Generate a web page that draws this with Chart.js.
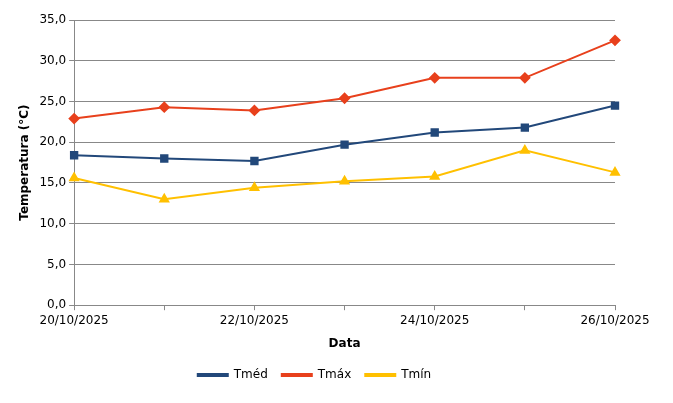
<!DOCTYPE html>
<html>
<head>
<meta charset="UTF-8">
<script src="https://cdn.jsdelivr.net/npm/chart.js"></script>
<style>
  html, body { margin: 0; padding: 0; background: white; }
  #wrap { width: 673px; height: 403px; }
</style>
</head>
<body>
<div id="wrap"><canvas id="chart"></canvas></div>
<script>
  const labels = ['20/10/2025','21/10/2025','22/10/2025','23/10/2025','24/10/2025','25/10/2025','26/10/2025'];
  const tmed = [18.4, 18.0, 17.7, 19.7, 21.2, 21.8, 24.5];
  const tmax = [22.9, 24.3, 23.9, 25.4, 27.9, 27.9, 32.5];
  const tmin = [15.6, 13.0, 14.4, 15.2, 15.8, 19.0, 16.3];

  Chart.defaults.font.family = 'DejaVu Sans, Verdana, sans-serif';
  Chart.defaults.font.size = 12;
  Chart.defaults.color = '#000';

  const line = (label, data, color, style) => ({
    label, data, borderColor: color, backgroundColor: color,
    pointStyle: style, pointRadius: 4.5,
    borderWidth: 2, tension: 0
  });

  new Chart(document.getElementById('chart'), {
    type: 'line',
    data: {
      labels,
      datasets: [
        line('Tméd', tmed, '#22487a', 'rect'),
        line('Tmáx', tmax, '#e8401c', 'rectRot'),
        line('Tmín', tmin, '#ffc000', 'triangle')
      ]
    },
    options: {
      responsive: true,
      maintainAspectRatio: false,
      animation: false,
      layout: { padding: { top: 20, right: 58, left: 14, bottom: 12 } },
      plugins: {
        legend: {
          position: 'bottom',
          labels: { boxWidth: 30, boxHeight: 2, padding: 14 }
        }
      },
      scales: {
        x: {
          offset: false,
          grid: { drawOnChartArea: false, color: '#888', tickLength: 5 },
          border: { color: '#888' },
          ticks: { maxRotation: 0, autoSkip: false,
            callback: (v, i) => i % 2 === 0 ? labels[i] : '' },
          title: { display: true, text: 'Data', font: { weight: 'bold' }, padding: { top: 6 } }
        },
        y: {
          min: 0, max: 35,
          grid: { color: '#888', tickLength: 5 },
          border: { color: '#888' },
          ticks: { stepSize: 5, callback: v => v.toFixed(1).replace('.', ',') },
          title: { display: true, text: 'Temperatura (°C)', font: { weight: 'bold' } }
        }
      }
    }
  });
</script>
</body>
</html>
